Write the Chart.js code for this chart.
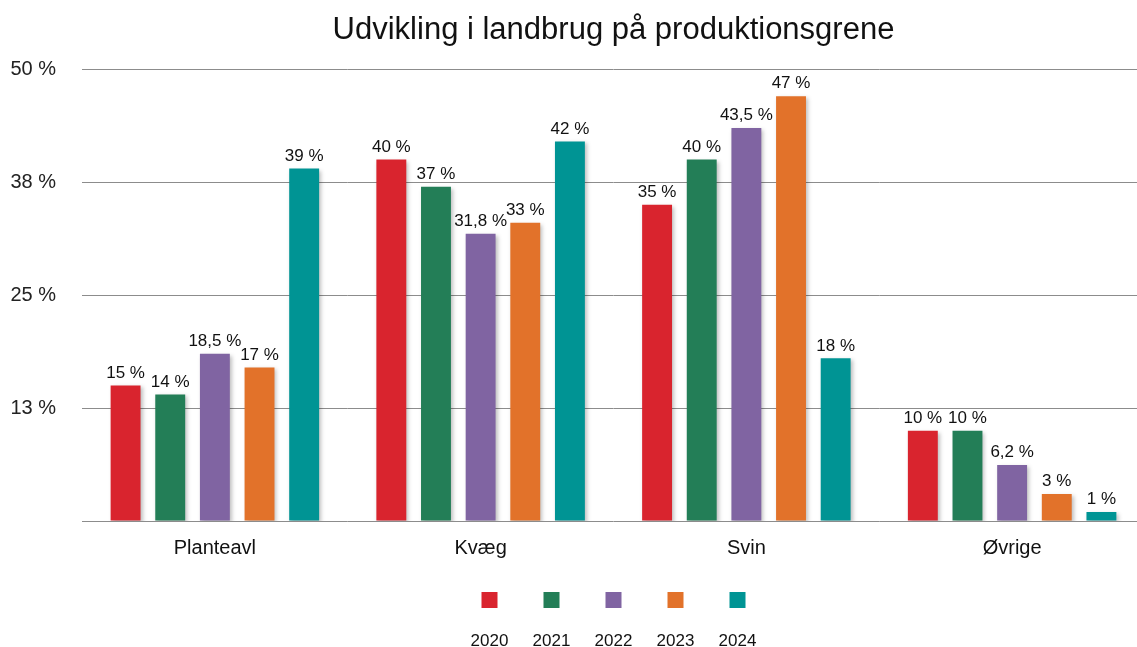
<!DOCTYPE html>
<html>
<head>
<meta charset="utf-8">
<script src="https://cdn.jsdelivr.net/npm/chart.js@4"></script>
<style>
  html, body { margin: 0; padding: 0; background: #fff; overflow: hidden; }
  #wrap { width: 1137px; height: 647px; overflow: hidden; }
</style>
</head>
<body>
<div id="wrap"><canvas id="chart1" width="1150" height="647"></canvas></div>
<script>
var categories = ["Planteavl", "Kvæg", "Svin", "Øvrige"];
var years = ["2020", "2021", "2022", "2023", "2024"];
var values2020 = [15, 40, 35, 10];
var values2021 = [14, 37, 40, 10];
var values2022 = [18.5, 31.8, 43.5, 6.2];
var values2023 = [17, 33, 47, 3];
var values2024 = [39, 42, 18, 1];
var colors = ["#D9242E", "#237E57", "#8064A2", "#E2722A", "#009494"];

var font = "'Liberation Sans', Arial, Helvetica, sans-serif";
var allValues = [values2020, values2021, values2022, values2023, values2024];

function fmt(v) {
    return String(v).replace(".", ",") + " %";
}

// bar shadows
var shadowPlugin = {
    id: "shadow",
    beforeDatasetsDraw: function (chart) {
        var c = chart.ctx;
        c.save();
        c.shadowColor = "rgba(0,0,0,0.25)";
        c.shadowBlur = 4;
        c.shadowOffsetX = 2;
        c.shadowOffsetY = 2;
    },
    afterDatasetsDraw: function (chart) {
        chart.ctx.restore();
    }
};

// value labels on top of bars
var labelPlugin = {
    id: "valueLabels",
    afterDatasetsDraw: function (chart) {
        var c = chart.ctx;
        c.save();
        c.font = "17px " + font;
        c.fillStyle = "#111";
        c.textAlign = "center";
        c.textBaseline = "bottom";
        chart.data.datasets.forEach(function (ds, i) {
            chart.getDatasetMeta(i).data.forEach(function (bar, j) {
                c.fillText(fmt(ds.data[j]), bar.x, bar.y - 4);
            });
        });
        c.restore();
    }
};

// legend: squares in one row, years underneath
var legendPlugin = {
    id: "splitLegend",
    afterDraw: function (chart) {
        var c = chart.ctx;
        var area = chart.chartArea;
        var mid = (area.left + area.right) / 2;
        var step = 62;
        var n = chart.data.datasets.length;
        c.save();
        c.font = "17px " + font;
        c.textAlign = "center";
        c.textBaseline = "middle";
        chart.data.datasets.forEach(function (ds, i) {
            var x = mid + (i - (n - 1) / 2) * step;
            c.fillStyle = ds.backgroundColor;
            c.fillRect(x - 8, 592, 16, 16);
            c.fillStyle = "#111";
            c.fillText(ds.label, x, 641);
        });
        c.restore();
    }
};

var datasets = years.map(function (y, i) {
    return {
        label: y,
        data: allValues[i],
        backgroundColor: colors[i],
        barPercentage: 0.67,
        categoryPercentage: 0.84
    };
});

var ctx = document.getElementById("chart1").getContext("2d");
var myChart = new Chart(ctx, {
    type: "bar",
    data: {
        labels: categories,
        datasets: datasets
    },
    plugins: [shadowPlugin, labelPlugin, legendPlugin],
    options: {
        responsive: false,
        animation: false,
        layout: {
            padding: { left: 0, right: 5, top: 0, bottom: 72 }
        },
        plugins: {
            legend: { display: false },
            tooltip: { enabled: false },
            title: {
                display: true,
                text: "Udvikling i landbrug på produktionsgrene",
                fullSize: false,
                color: "#111",
                font: { family: font, size: 31, weight: "normal" },
                padding: { top: 12, bottom: 20 }
            }
        },
        scales: {
            x: {
                grid: { display: false, drawTicks: false },
                border: { display: false },
                ticks: {
                    color: "#111",
                    padding: 15,
                    font: { family: font, size: 20 }
                }
            },
            y: {
                min: 0,
                max: 50,
                border: { display: false },
                grid: { color: "#8c8c8c", lineWidth: 1, drawTicks: false },
                afterFit: function (scale) {
                    scale.width = 82;
                },
                ticks: {
                    stepSize: 12.5,
                    color: "#222",
                    padding: 26,
                    font: { family: font, size: 20 },
                    callback: function (v) {
                        return v === 0 ? "" : Math.round(v) + " %";
                    }
                }
            }
        }
    }
});
</script>
</body>
</html>
